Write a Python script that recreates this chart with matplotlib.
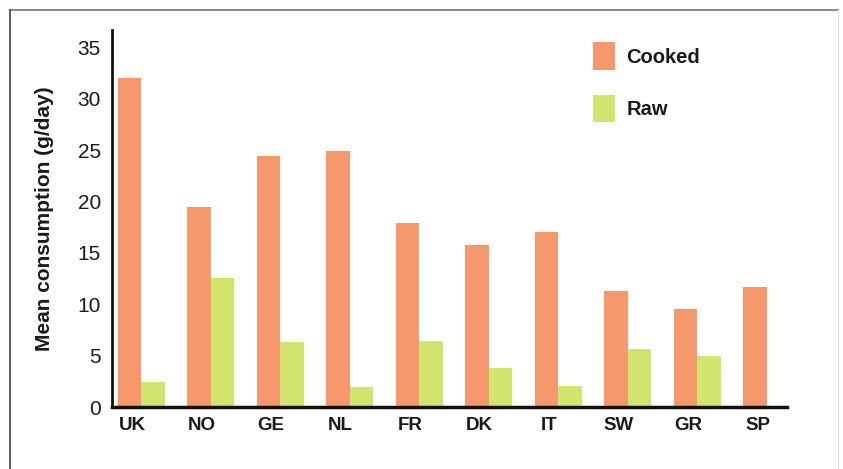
import numpy as np
import matplotlib.pyplot as plt
from matplotlib.lines import Line2D

countries = ['UK', 'NO', 'GE', 'NL', 'FR', 'DK', 'IT', 'SW', 'GR', 'SP']
cooked = [32.0, 19.5, 24.4, 24.9, 17.9, 15.8, 17.0, 11.3, 9.5, 11.7]
raw = [2.4, 12.6, 6.3, 1.9, 6.4, 3.8, 2.0, 5.6, 5.0, 0.0]
yticks = [0, 5, 10, 15, 20, 25, 30, 35]

plt.rcParams['font.family'] = ['Liberation Sans', 'DejaVu Sans']

fig = plt.figure(figsize=(8.43, 4.69), dpi=100)
ax = fig.add_axes([112 / 843, 1 - 407 / 469, (787 - 112) / 843, (407 - 30) / 469])

x = np.arange(len(countries))
w = 0.34
ax.bar(x - w / 2, cooked, w, color='#F7976C', label='Cooked')
ax.bar(x + w / 2, raw, w, color='#D3E46E', label='Raw')

ax.set_xlim(-0.42, 9.29)
ax.set_ylim(0, 36.7)
ax.set_yticks(yticks)
ax.set_yticklabels([str(t) for t in yticks], fontsize=15, color='#1a1a1a')
ax.set_xticks(x - w / 2 + 0.04)
ax.set_xticklabels(countries, fontsize=13.5, fontweight='bold', color='#1a1a1a')
ax.tick_params(axis='both', length=0)
ax.tick_params(axis='y', pad=8)
ax.tick_params(axis='x', pad=7)

for s in ['top', 'right']:
    ax.spines[s].set_visible(False)
ax.spines['left'].set_linewidth(2)
ax.spines['bottom'].set_linewidth(2.5)
ax.spines['left'].set_color('#111111')
ax.spines['bottom'].set_color('#111111')

ax.set_ylabel('Mean consumption (g/day)', fontsize=15, fontweight='bold',
              color='#1a1a1a', labelpad=17)

ax.legend(loc='upper left', bbox_to_anchor=(0.686, 1.015), frameon=False,
          prop={'size': 14.5, 'weight': 'bold'}, handlelength=1.1,
          handleheight=1.7, labelspacing=1.25, handletextpad=0.55,
          labelcolor='#1a1a1a')

# outer frame
fig.add_artist(Line2D([10 / 843, 838 / 843], [1 - 10 / 469, 1 - 10 / 469],
                      color='#777777', lw=1.2))
fig.add_artist(Line2D([10 / 843, 10 / 843], [1 - 10 / 469, 0],
                      color='#444444', lw=1.2))
fig.add_artist(Line2D([838 / 843, 838 / 843], [1 - 10 / 469, 0],
                      color='#e6e6e6', lw=1.0))

fig.savefig('out.png', dpi=100)
